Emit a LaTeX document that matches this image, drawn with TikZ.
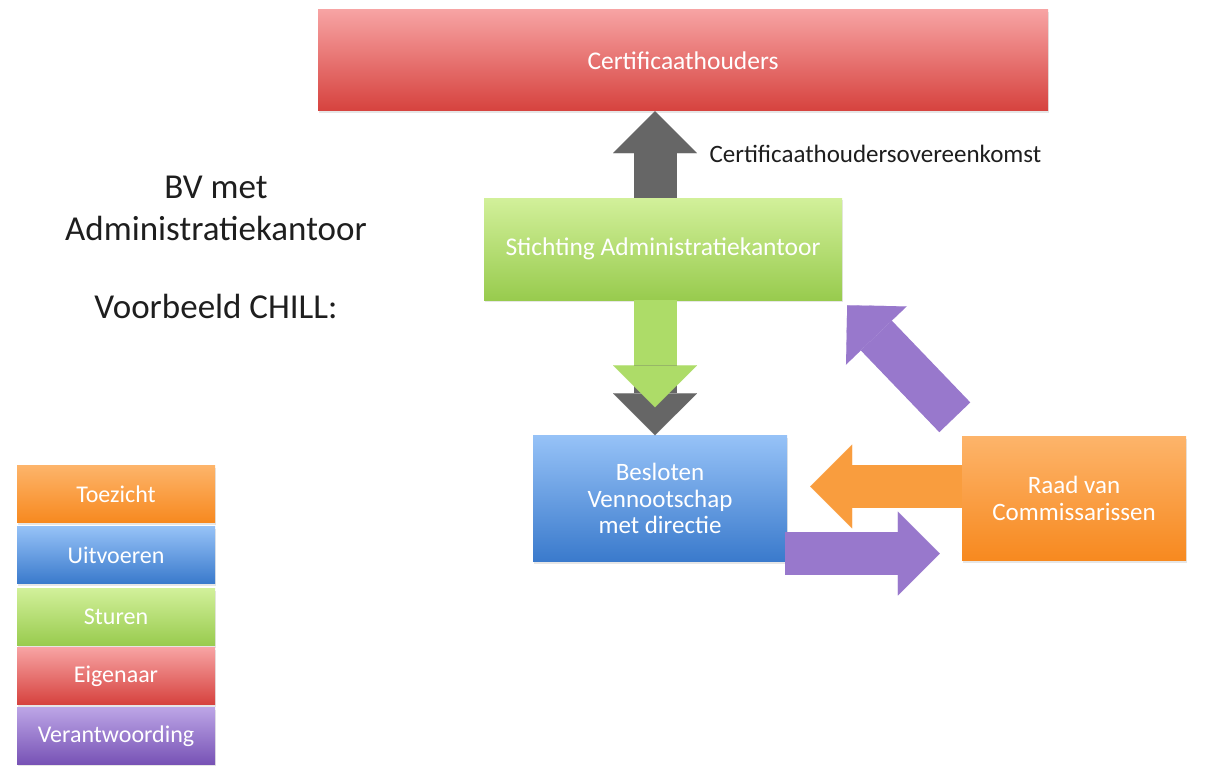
\documentclass[tikz,border=0pt]{standalone}
\usepackage{fontspec}
\setmainfont{Carlito}
\usetikzlibrary{arrows.meta,calc,shadows}
\definecolor{redtop}{HTML}{F7A3A3}
\definecolor{redbot}{HTML}{D6423E}
\definecolor{greentop}{HTML}{D2F09A}
\definecolor{greenbot}{HTML}{98CB4E}
\definecolor{bluetop}{HTML}{96C2F7}
\definecolor{bluebot}{HTML}{3A7ACC}
\definecolor{orangetop}{HTML}{FDB46A}
\definecolor{orangebot}{HTML}{F7891F}
\definecolor{purpletop}{HTML}{BCA5E6}
\definecolor{purplebot}{HTML}{7752B5}
\definecolor{arrowgray}{HTML}{666666}
\definecolor{arrowgreen}{HTML}{ADDC68}
\definecolor{arroworange}{HTML}{F99D3E}
\definecolor{arrowpurple}{HTML}{9878CC}
\definecolor{inktext}{HTML}{1E1E1E}

\tikzset{
  box/.style={rectangle, inner sep=0pt, align=center, text=white,
    font=\fontsize{25.5}{30}\selectfont,
    drop shadow={shadow xshift=1pt, shadow yshift=-2pt, opacity=0.2}},
  legend/.style={box, minimum width=198pt, minimum height=57pt,
    font=\fontsize{24}{28}\selectfont},
  blockarrow/.style={line width=43pt,
    -{Triangle[width=84pt,length=42pt,line width=0.1pt]}},
  titletext/.style={anchor=base, text=inktext, font=\fontsize{35}{42}\selectfont},
}

\begin{document}
\begin{tikzpicture}[x=1pt,y=-1pt]
  \useasboundingbox (0,0) rectangle (1214,765);

  \node[box, minimum width=730pt, minimum height=101pt,
        top color=redtop, bottom color=redbot] (cert) at (683,60.5) {Certificaathouders};
  \node[box, minimum width=358pt, minimum height=102pt,
        top color=greentop, bottom color=greenbot] (stak) at (663,249) {Stichting Administratiekantoor};
  \node[box, minimum width=254pt, minimum height=126pt,
        font=\fontsize{25}{26.5}\selectfont,
        top color=bluetop, bottom color=bluebot] (bv) at (660,498.5) {Besloten\\Vennootschap\\met directie};
  \node[box, minimum width=224pt, minimum height=124pt,
        font=\fontsize{25}{27}\selectfont,
        top color=orangetop, bottom color=orangebot] (rvc) at (1074,498.5) {Raad van\\Commissarissen};

  \node[titletext] (title1) at (216,198) {BV met};
  \node[titletext] (title2) at (216,240) {Administratiekantoor};
  \node[titletext] (title3) at (216,318) {Voorbeeld CHILL:};

  \foreach \i/\txt/\col/\y in {0/Toezicht/orange/494, 1/Uitvoeren/blue/555,
      2/Sturen/green/617, 3/Eigenaar/red/676, 4/Verantwoording/purple/736}
  {
    \node[legend, top color=\col top, bottom color=\col bot] (leg\i) at (116,\y) {\txt};
  }

  \coordinate (gx) at (655,0);

  \draw[blockarrow, arrowgray] (stak.north -| gx) -- (cert.south -| gx);
  \node[anchor=base west, text=inktext, font=\fontsize{25}{30}\selectfont]
    (ovk) at (706,162) {Certificaathoudersovereenkomst};

  \draw[blockarrow, arrowgray] (stak.south -| gx) -- (bv.north -| gx);
  \draw[blockarrow, arrowgreen] (stak.south -| gx) -- ($(bv.north -| gx)+(0,-28)$);

  \draw[blockarrow, arroworange] ($(rvc.west)+(0,-12)$) -- ($(bv.east)+(23,-12)$);
  \draw[blockarrow, arrowpurple] ($(bv.east)+(-2,55)$) -- ($(rvc.west)+(-22,55)$);
  \draw[blockarrow, arrowpurple] ($(rvc.north west)+(-7,-19)$) -- ($(stak.south east)+(5,5)$);
\end{tikzpicture}
\end{document}
